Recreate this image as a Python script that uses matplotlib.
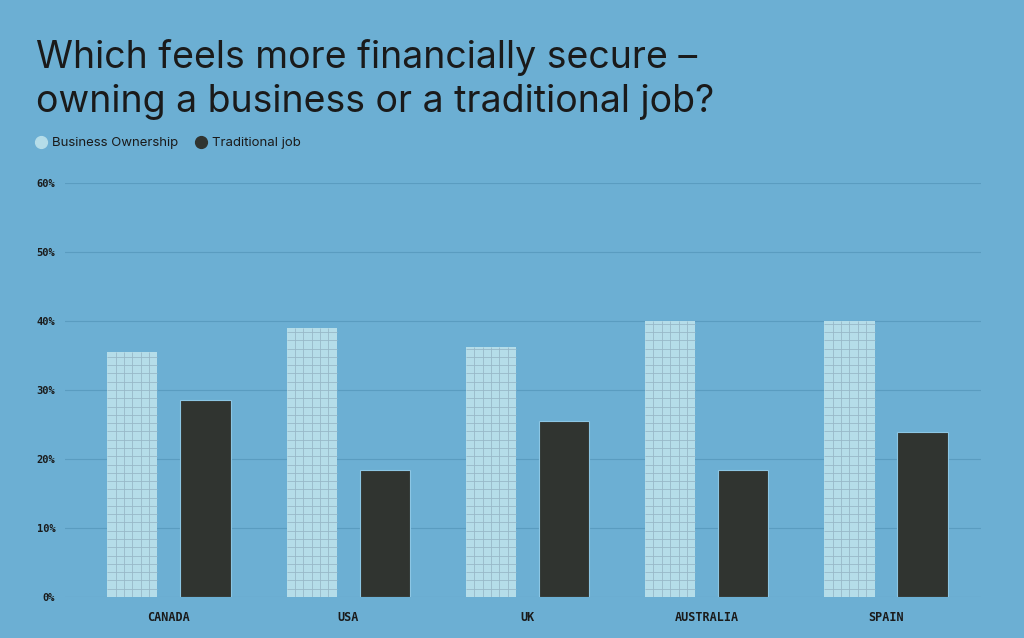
import numpy as np
import matplotlib.pyplot as plt
from matplotlib.lines import Line2D
from matplotlib.collections import LineCollection

countries = ['CANADA', 'USA', 'UK', 'AUSTRALIA', 'SPAIN']
business_ownership = [35.5, 39.0, 36.2, 40.0, 40.0]
traditional_job = [28.5, 18.4, 25.5, 18.4, 23.9]
yticks = [0, 10, 20, 30, 40, 50, 60]

bg = '#6cafd3'
light = '#b5dde9'
dark = '#303430'
text_col = '#1a1a1a'
cell_line = '#98b8c8'

fig = plt.figure(figsize=(10.24, 6.38), dpi=100, facecolor=bg)
ax = fig.add_axes([65 / 1024, 41 / 638, 916 / 1024, 414 / 638])
ax.set_facecolor(bg)

x = np.arange(len(countries))
w = 0.28
off = 0.204
light_bars = ax.bar(x - off, business_ownership, w, color=light, linewidth=0, zorder=3)
ax.bar(x + off, traditional_job, w, color=dark, edgecolor='#8cc6e4',
       linewidth=0.8, zorder=3)

# fine square grid inside the light bars
for b in light_bars:
    x0, x1 = b.get_x(), b.get_x() + b.get_width()
    h = b.get_height()
    segs = [[(xv, 0), (xv, h)] for xv in np.linspace(x0, x1, 7)[1:-1]]
    segs += [[(x0, yv), (x1, yv)] for yv in np.arange(1.2, h, 1.2)]
    lc = LineCollection(segs, colors=cell_line, linewidths=0.6, zorder=4)
    lc.set_clip_path(b)
    ax.add_collection(lc)

ax.set_xlim(-0.58, 4.53)
ax.set_ylim(0, 60)
ax.set_yticks(yticks)
ax.set_yticklabels([f'{t}%' for t in yticks], fontfamily='DejaVu Sans Mono',
                   fontsize=7.5, fontweight='bold', color=text_col)
ax.set_xticks(x)
ax.set_xticklabels(countries, fontfamily='DejaVu Sans Mono', fontsize=8.5,
                   fontweight='bold', color=text_col)
ax.tick_params(axis='both', length=0)
ax.tick_params(axis='y', pad=7)
ax.tick_params(axis='x', pad=10)
ax.grid(axis='y', color='#5a9cc0', linewidth=0.8, zorder=0)
for s in ax.spines.values():
    s.set_visible(False)

fig.text(36 / 1024, 1 - 39 / 638,
         'Which feels more financially secure –\nowning a business or a traditional job?',
         fontfamily='Inter', fontsize=27, color=text_col, va='top', ha='left',
         linespacing=1.3)

handles = [
    Line2D([], [], marker='o', linestyle='', markersize=8.5, color=light, label='Business Ownership'),
    Line2D([], [], marker='o', linestyle='', markersize=8.5, color=dark, label='Traditional job'),
]
fig.legend(handles=handles, loc='center left', bbox_to_anchor=(23 / 1024, 1 - 143 / 638),
           ncol=2, frameon=False, handlelength=1.0, handletextpad=0.3, columnspacing=1.25,
           prop={'family': 'Inter', 'size': 9.5}, labelcolor=text_col)

fig.savefig('out.png', dpi=100, facecolor=bg)
